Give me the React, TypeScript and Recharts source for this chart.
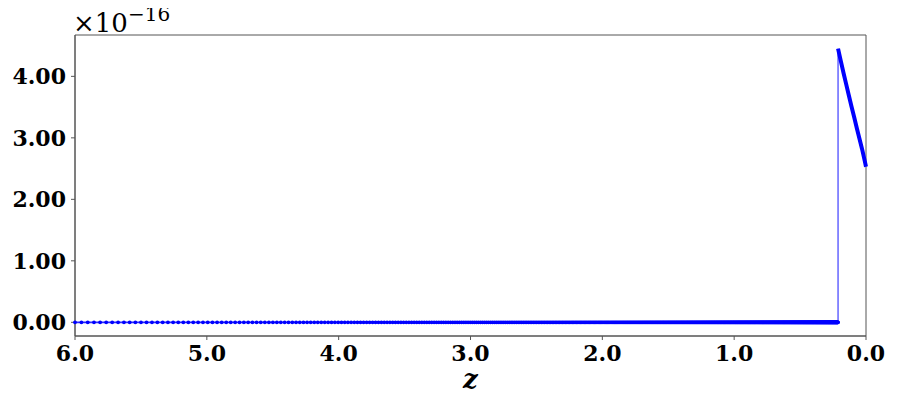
import React from "react";
import { LineChart, Line, XAxis, YAxis, ReferenceArea } from "recharts";

// Sampling grid: uniform in scale factor a = 1/(1+z)
const scaleFactorStart = 1 / 7;
const scaleFactorStep = 0.001;
const dropZ = 0.212;

const zeroGridZ: number[] = [];
for (let a = scaleFactorStart; 1 / a - 1 >= dropZ; a += scaleFactorStep) {
  zeroGridZ.push(1 / a - 1);
}
const zeroValues = zeroGridZ.map(() => 0);

const jumpZ = [dropZ, dropZ];
const jumpValues = [0, 4.45];

const curveZ = [0.212, 0.19, 0.17, 0.15, 0.13, 0.11, 0.09, 0.07, 0.05, 0.03, 0.01, 0.0];
const curveValues = [4.45, 4.24, 4.05, 3.87, 3.69, 3.51, 3.34, 3.16, 2.99, 2.82, 2.63, 2.53];

const xTicks = [0, 1, 2, 3, 4, 5, 6];
const yTicks = [0, 1, 2, 3, 4];
const yDomain: [number, number] = [-0.2225, 4.6725];

const zeroData = zeroGridZ.map((z, i) => ({ z, v: zeroValues[i] }));
const jumpData = jumpZ.map((z, i) => ({ z, v: jumpValues[i] }));
const curveData = curveZ.map((z, i) => ({ z, v: curveValues[i] }));

const tickFont = {
  fontFamily: "'DejaVu Serif', serif",
  fontWeight: "bold" as const,
  fontSize: 22,
  fill: "#000",
};

export default function App() {
  return (
    <div style={{ position: "relative", width: 889, height: 406 }}>
      <LineChart
        width={889}
        height={406}
        margin={{ top: 27, right: 31, left: 0, bottom: 0 }}
      >
        <XAxis
          dataKey="z"
          type="number"
          domain={[0, 6]}
          reversed
          ticks={xTicks}
          allowDuplicatedCategory={false}
          tickFormatter={(v: number) => v.toFixed(1)}
          tick={tickFont}
          tickSize={4}
          tickMargin={5}
          height={78}
          stroke="#555"
          label={{
            value: "z",
            position: "insideBottom",
            offset: 26,
            style: {
              fontFamily: "'DejaVu Serif', serif",
              fontStyle: "italic",
              fontWeight: "bold",
              fontSize: 26,
              fill: "#000",
            },
          }}
        />
        <YAxis
          type="number"
          domain={yDomain}
          ticks={yTicks}
          tickFormatter={(v: number) => v.toFixed(2)}
          tick={tickFont}
          tickSize={4}
          tickMargin={5}
          width={67}
          stroke="#555"
          allowDataOverflow
        />
        <ReferenceArea
          x1={0}
          x2={6}
          y1={yDomain[0]}
          y2={yDomain[1]}
          fill="none"
          stroke="#555"
          strokeWidth={1}
          ifOverflow="visible"
        />
        <Line
          data={zeroData}
          dataKey="v"
          type="linear"
          stroke="#2a2aff"
          strokeWidth={1.8}
          dot={{ r: 1.9, fill: "#0000ff", stroke: "none" }}
          isAnimationActive={false}
        />
        <Line
          data={jumpData}
          dataKey="v"
          type="linear"
          stroke="#4d4dff"
          strokeWidth={1.3}
          dot={false}
          isAnimationActive={false}
        />
        <Line
          data={curveData}
          dataKey="v"
          type="linear"
          stroke="#0000ff"
          strokeWidth={4}
          dot={false}
          isAnimationActive={false}
        />
      </LineChart>
      <svg
        width={300}
        height={45}
        style={{ position: "absolute", left: -8, top: -8, overflow: "visible" }}
      >
        <text
          x={73}
          y={32}
          fontFamily="'DejaVu Serif', serif"
          fontSize={26}
          fill="#000"
        >
          ×10
        </text>
        <text
          x={128}
          y={21}
          fontFamily="'DejaVu Serif', serif"
          fontSize={20}
          fill="#000"
        >
          −16
        </text>
      </svg>
    </div>
  );
}
